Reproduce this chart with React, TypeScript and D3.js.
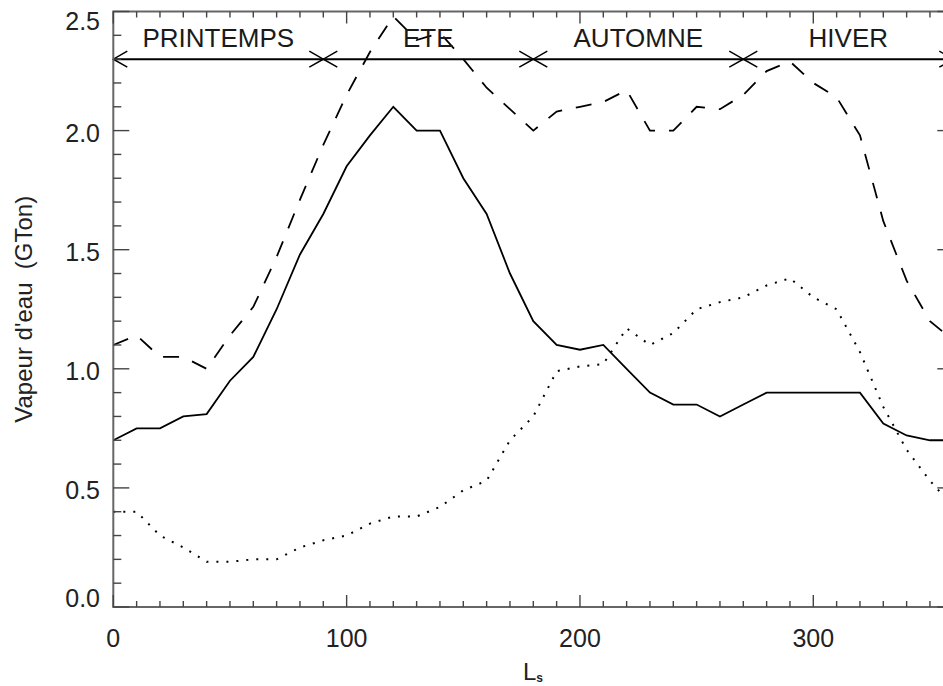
import React from 'react';
import * as d3 from 'd3';

// Ls (degrés) tous les 10°
const LS = d3.range(0, 361, 10);

// trait plein
const SOLID = [0.70, 0.75, 0.75, 0.80, 0.81, 0.95, 1.05, 1.25, 1.48, 1.65, 1.85, 1.98, 2.10, 2.00, 2.00, 1.80, 1.65, 1.40, 1.20,
  1.10, 1.08, 1.10, 1.00, 0.90, 0.85, 0.85, 0.80, 0.85, 0.90, 0.90, 0.90, 0.90, 0.90, 0.77, 0.72, 0.70, 0.70];

// tirets
const DASHED = [1.10, 1.14, 1.05, 1.05, 1.00, 1.14, 1.26, 1.47, 1.71, 1.94, 2.15, 2.33, 2.48, 2.38, 2.41, 2.30, 2.18, 2.09, 2.00,
  2.08, 2.10, 2.12, 2.17, 2.00, 2.00, 2.10, 2.09, 2.15, 2.25, 2.29, 2.20, 2.14, 1.98, 1.62, 1.37, 1.20, 1.12];

// pointillés
const DOTTED = [0.40, 0.40, 0.30, 0.25, 0.19, 0.19, 0.20, 0.20, 0.25, 0.28, 0.30, 0.35, 0.38, 0.38, 0.42, 0.49, 0.53, 0.70, 0.80,
  0.99, 1.01, 1.02, 1.17, 1.10, 1.15, 1.25, 1.28, 1.30, 1.35, 1.38, 1.30, 1.25, 1.07, 0.84, 0.66, 0.53, 0.42];

const SEASONS = ['PRINTEMPS', 'ETE', 'AUTOMNE', 'HIVER'];
const SEASON_BOUNDS = [0, 90, 180, 270, 360];
const SEASON_LEVEL = 2.3;

const X_TICKS = [0, 100, 200, 300];
const Y_TICKS = [0, 0.5, 1.0, 1.5, 2.0, 2.5];

const W = 943;
const H = 686;
const FONT = '"Liberation Sans", Arial, sans-serif';

export default function App() {
  const x = d3.scaleLinear().domain([0, 360]).range([113.3, 953.3]);
  const y = d3.scaleLinear().domain([0, 2.5]).range([607, 11.5]);
  const [x0, x1] = x.range();
  const [yb, yt] = y.range();

  const line = d3.line<number>()
    .x((_, i) => x(LS[i]))
    .y(d => y(d));

  const xMinor = d3.range(0, 361, 10);
  const yMinor = d3.range(0, 26).map(v => v / 10);

  const ys = y(SEASON_LEVEL);
  const ah = 14, av = 8;

  // IDL garde les étiquettes à l'intérieur du cadre
  const yLabelPos = (v: number) => Math.min(Math.max(y(v) + 2, yt + 9), yb - 9);

  return (
    <svg width={W} height={H} style={{ position: 'absolute', left: 0, top: 0, background: '#fff' }}
      fontFamily={FONT}>
      <defs>
        <clipPath id="plot">
          <rect x={x0} y={yt} width={x1 - x0} height={yb - yt} />
        </clipPath>
      </defs>

      {/* courbes */}
      <g clipPath="url(#plot)" fill="none" stroke="#000">
        <path d={line(SOLID) || ''} strokeWidth={1.8} />
        <path d={line(DASHED) || ''} strokeWidth={1.8} strokeDasharray="16 14" />
        <path d={line(DOTTED) || ''} strokeWidth={2} strokeDasharray="2 8" />
      </g>

      {/* saisons */}
      <g stroke="#000" strokeWidth={2} fill="none">
        <line x1={x(0)} x2={x(360)} y1={ys} y2={ys} />
        {SEASON_BOUNDS.map(b => (
          <g key={b}>
            {b < 360 && <path d={`M${x(b) + ah},${ys - av}L${x(b)},${ys}L${x(b) + ah},${ys + av}`} strokeWidth={1.5} />}
            {b > 0 && <path d={`M${x(b) - ah},${ys - av}L${x(b)},${ys}L${x(b) - ah},${ys + av}`} strokeWidth={1.5} />}
          </g>
        ))}
      </g>
      {SEASONS.map((s, i) => (
        <text key={s} x={x((SEASON_BOUNDS[i] + SEASON_BOUNDS[i + 1]) / 2)} y={47} fontSize={26}
          textAnchor="middle" fill="#1a1a1a">{s}</text>
      ))}

      {/* cadre et graduations */}
      <g stroke="#444" strokeWidth={1.4}>
        <rect x={x0} y={yt} width={x1 - x0} height={yb - yt} fill="none" stroke="#666" strokeWidth={2} />
        {xMinor.map(v => {
          const len = v % 100 === 0 ? 12 : 6;
          return (
            <g key={'x' + v}>
              <line x1={x(v)} x2={x(v)} y1={yb} y2={yb - len} />
              <line x1={x(v)} x2={x(v)} y1={yt} y2={yt + len} />
            </g>
          );
        })}
        {yMinor.map(v => {
          const len = Math.round(v * 10) % 5 === 0 ? 16 : 8;
          return (
            <g key={'y' + v}>
              <line x1={x0} x2={x0 + len} y1={y(v)} y2={y(v)} />
              <line x1={x1} x2={x1 - len} y1={y(v)} y2={y(v)} />
            </g>
          );
        })}
      </g>

      {/* étiquettes */}
      <g fontSize={25} fill="#222">
        {X_TICKS.map(v => (
          <text key={v} x={x(v)} y={647} textAnchor="middle">{v}</text>
        ))}
        {Y_TICKS.map(v => (
          <text key={v} x={100} y={yLabelPos(v)} dy="0.36em" textAnchor="end">{v.toFixed(1)}</text>
        ))}
      </g>

      <text transform={`translate(32,${(yt + yb) / 2}) rotate(-90)`} textAnchor="middle" fontSize={24}
        fill="#222" style={{ whiteSpace: 'pre' }}>{"Vapeur d'eau  (GTon)"}</text>

      <text x={523} y={680} fontSize={24} fill="#222">
        L<tspan fontSize={12} fontWeight="bold" dy={2}>s</tspan>
      </text>
    </svg>
  );
}
